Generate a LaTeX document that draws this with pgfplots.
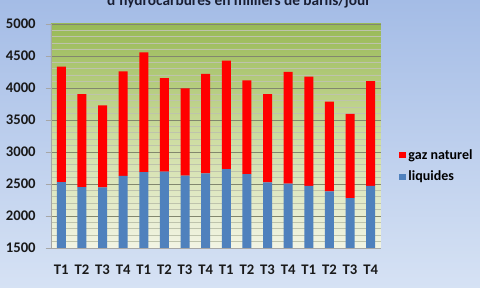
\documentclass[border=0pt]{standalone}
\usepackage{fontspec}
\setmainfont{Carlito}
\usepackage{pgfplots}
\pgfplotsset{compat=1.18}
\definecolor{bgtop}{RGB}{164,188,230}
\definecolor{bgbot}{RGB}{214,226,244}
\definecolor{gtop}{RGB}{152,185,86}
\definecolor{gmid}{RGB}{205,220,160}
\definecolor{gbot}{RGB}{242,244,228}
\definecolor{majgrid}{RGB}{130,135,110}
\definecolor{mingrid}{RGB}{190,195,172}
\definecolor{barblue}{RGB}{79,129,189}
\definecolor{barred}{RGB}{255,0,0}
\definecolor{titlec}{RGB}{25,30,50}
\begin{document}
\begin{tikzpicture}[x=1pt,y=1pt]
\useasboundingbox (0,0) rectangle (360,216);
\clip (0,0) rectangle (360,216);
\shade[top color=bgtop, bottom color=bgbot] (0,0) rectangle (360,216);
\node[font=\bfseries\fontsize{11.5}{13}\selectfont, text=titlec, anchor=base, inner sep=0pt] at (179.25,211.5) {d'hydrocarbures en milliers de barils/jour};
\begin{axis}[
  at={(38.25pt,30pt)}, anchor=south west,
  scale only axis, width=247.5pt, height=168pt,
  ybar stacked, bar width=6.75pt,
  xmin=0.5, xmax=16.5, ymin=1500, ymax=5000,
  ytick={1500,2000,...,5000}, minor y tick num=4,
  ymajorgrids, yminorgrids,
  major grid style={majgrid, line width=0.5pt},
  minor grid style={mingrid, line width=0.45pt},
  axis background/.style={top color=gtop, bottom color=gbot, middle color=gmid},
  axis lines*=left,
  axis line style={gray!70, line width=0.5pt},
  xtick={1,...,16},
  xticklabels={T1,T2,T3,T4,T1,T2,T3,T4,T1,T2,T3,T4,T1,T2,T3,T4},
  x tick style={draw=none},
  y tick style={gray!70, line width=0.5pt},
  major tick length=4pt, minor tick length=0pt,
  tick align=outside,
  extra x ticks={0.5,1.5,...,16.5},
  extra x tick labels={},
  extra x tick style={grid=none, major tick length=32pt, tick align=outside, tick style={draw=gray!55, line width=0.5pt}},
  /pgf/number format/assume math mode=true,
  /pgf/number format/1000 sep={},
  ticklabel style={font=\bfseries\fontsize{11}{13}\selectfont, text=black!90},
  xticklabel style={anchor=base, yshift=-16pt},
  yticklabel style={xshift=-4pt},
  legend style={at={(1.055,0.366)}, anchor=west, draw=none, fill=none,
    font=\bfseries\fontsize{10.5}{12}\selectfont, row sep=3.5pt,
    inner sep=0pt},
  legend cell align=left,
  reverse legend,
  legend image code/.code={\fill[#1] (0pt,-2.4pt) rectangle (4.8pt,2.4pt);},
]
\addplot[fill=barblue, draw=none] coordinates {
(1,2531) (2,2453) (3,2448) (4,2625) (5,2687) (6,2693) (7,2630) (8,2667)
(9,2734) (10,2656) (11,2526) (12,2505) (13,2469) (14,2385) (15,2281) (16,2469)};
\addlegendentry{liquides}
\addplot[fill=barred, draw=none] coordinates {
(1,1802) (2,1453) (3,1281) (4,1635) (5,1870) (6,1463) (7,1365) (8,1552)
(9,1693) (10,1464) (11,1380) (12,1745) (13,1708) (14,1401) (15,1313) (16,1640)};
\addlegendentry{gaz naturel}
\end{axis}
\end{tikzpicture}
\end{document}
